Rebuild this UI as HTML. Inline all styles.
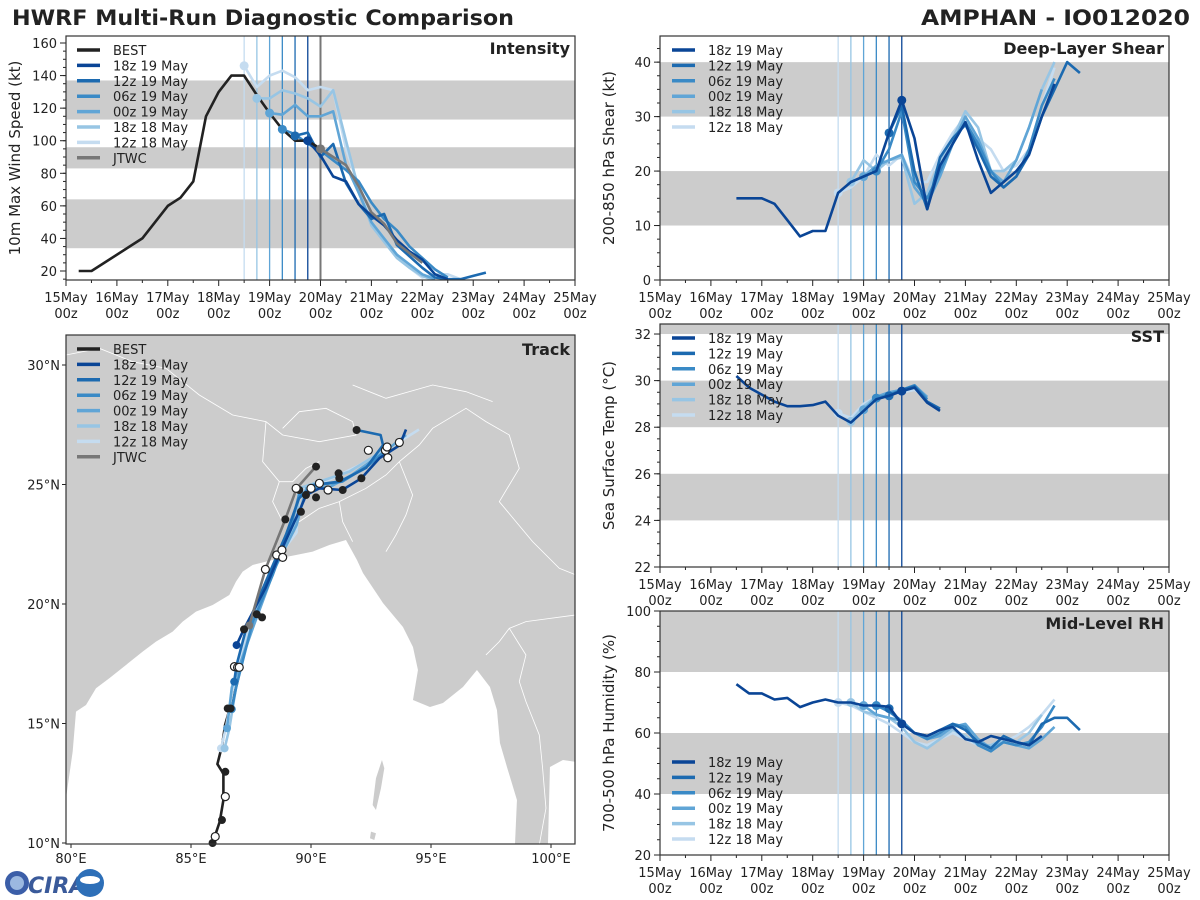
<!DOCTYPE html>
<html><head><meta charset="utf-8"><style>
html,body{margin:0;padding:0;background:#fff;}
svg{display:block;font-family:"DejaVu Sans","Liberation Sans",sans-serif;}
</style></head><body>
<svg id="chart" width="1200" height="900" viewBox="0 0 1200 900" xmlns="http://www.w3.org/2000/svg">
<text x="12" y="25" font-size="21" font-weight="bold" fill="#222" textLength="502" lengthAdjust="spacingAndGlyphs">HWRF Multi-Run Diagnostic Comparison</text>
<text x="921" y="25" font-size="21" font-weight="bold" fill="#222" textLength="269" lengthAdjust="spacingAndGlyphs">AMPHAN - IO012020</text>
<g>
<circle cx="17" cy="883" r="12" fill="#3b5ea8"/>
<circle cx="17" cy="883" r="7" fill="#9bb8e0"/>
<text x="28" y="893" font-size="22" font-weight="bold" fill="#3a5a9a" font-style="italic">CIRA</text>
<circle cx="90" cy="883" r="14" fill="#2d6fb8"/>
<ellipse cx="90" cy="880" rx="10" ry="4" fill="#fff"/>
</g>
</svg>
<script>
// ---------------- data ----------------
const runNames = ['18z 19 May','12z 19 May','06z 19 May','00z 19 May','18z 18 May','12z 18 May'];
const runStarts = [4.75, 4.5, 4.25, 4.0, 3.75, 3.5];
const runColors = ['#0a4596','#1c6ab0','#3a8ac6','#60a5d6','#97c5e4','#c5dcf0'];
const xTickLabels = ['15May','16May','17May','18May','19May','20May','21May','22May','23May','24May','25May'];

// Intensity (kt)
const bestTimes = [0.25,0.5,1.5,2,2.25,2.5,2.75,3,3.25,3.5,3.75,4,4.25,4.5,4.75,5];
const bestVmax = [20,20,40,60,65,75,115,130,140,140,128,117,107,100,100,95];
const jtwcTimes = [5,5.25,5.5,5.75,6,6.25,6.5,6.75,7];
const jtwcVmax = [95,90,85,72,56,49,37,31,25];
const int18z19 = [100,91,78,75,61,54,48,39,32,27,18,15];
const int12z19 = [103,105,90,98,74,61,52,55,36,29,22,16,15,15,17,19];
const int06z19 = [107,104,98,94,88,82,75,62,52,45,35,28,21,16];
const int00z19 = [117,116,122,115,115,118,85,68,50,40,30,24,18,15];
const int18z18 = [126,126,131,129,126,121,131,100,70,48,38,28,22,17,14];
const int12z18 = [146,133,140,143,139,131,133,131,95,72,50,40,30,22,16,18,18,15];

// Deep-layer shear (kt)
const shr18z19Start = 1.5;
const shr18z19 = [15,15,15,14,11,8,9,9,16,18,19,20,27,33,26,13,21,25,29,22,16,18,20,23,30,36];
const shr12z19 = [27,32,20,13,22.5,26,28.5,24,19,17,19,23,30,35,40,38];
const shr06z19 = [20,24,31,18,15,20,25,29,25,20,17,19,24,32,37];
const shr00z19 = [19,21,22,23,17,14,19,25,30,26,20,18,22,28,35];
const shr18z18 = [18,22,20,22,22.5,14,16,22,26,31,28,20,20,22,28,35,40];
const shr12z18 = [16,17,19,23,21,23,18,18,23,27,30,26,24,20,21,24,32,39];

// SST (C)
const sst18z19Start = 1.5;
const sst18z19 = [30.2,29.7,29.4,29.1,28.9,28.9,28.95,29.1,28.5,28.2,28.7,29.2,29.35,29.55,29.7,29.05,28.7];
const sst12z19 = [29.35,29.6,29.75,29.1,28.8];
const sst06z19 = [29.25,29.4,29.6,29.8,29.2];
const sst00z19 = [28.75,29.3,29.5,29.6,29.8,29.3];
const sst18z18 = [28.25,28.9,29.3,29.5,29.6,29.7,29.3];
const sst12z18 = [28.6,28.4,29.0,29.3,29.4,29.5,29.6,29.3];

// Mid-level RH (%)
const rh18z19Start = 1.5;
const rh18z19 = [76,73,73,71,71.5,68.5,70,71,70,70,69,69,68.6,63,60,59,61,62,58,57,59,58,57,56,59];
const rh12z19 = [68,63,60,59,61,63,61,57,55,59,57,56,63,65,65,61];
const rh06z19 = [69,67,64,60,58,60,63,62,56,54,57,56,57,62,69];
const rh00z19 = [69,66,65,64,60,58,59,62,63,58,55,57,56,55,58,62];
const rh18z18 = [70,67,66,65,62,57,55,58,61,59,56,56,58,57,60,66];
const rh12z18 = [70,69,67,65,63,60,57,56,58,60,58,56,56,57,59,62,66,71];

// Track (lon, lat)
const bestLon = [85.9,86.0,86.2,86.35,86.35,86.1,86.3,86.42,86.9,87.3];
const bestLat = [10.0,10.3,10.9,11.8,12.9,13.3,14.1,14.94,16.6,18.4];
const jtwcLon = [87.43,88.1,88.93,89.4,90.2];
const jtwcLat = [19.1,21.45,23.54,24.84,25.75];
const trk18z19Lon = [86.9,87.2,88.1,88.8,89.5,89.8,90.35,91.3,92.1,92.85,93.7,93.96];
const trk18z19Lat = [18.28,18.94,20.66,22.33,23.86,24.56,24.84,24.77,25.26,26.1,26.65,27.3];
const trk12z19Lon = [86.8,86.9,87.3,88.1,88.96,89.5,90.07,91.2,92.3,93.0,92.9,91.9];
const trk12z19Lat = [16.75,17.45,18.98,20.9,22.9,24.42,24.98,25.12,25.7,26.65,27.07,27.28];
const trk06z19Lon = [86.7,86.9,87.57,88.4,89.2,89.5,90.35,91.3,92.4,93.2];
const trk06z19Lat = [15.6,16.6,19.26,21.2,23.4,24.56,24.98,25.12,25.8,26.5];
const trk00z19Lon = [86.5,86.7,87.57,88.5,89.4,89.8,90.8,91.7,93.1,93.96];
const trk00z19Lat = [14.8,16.5,18.98,21.5,23.3,24.84,24.9,25.4,26.4,27.07];
const trk18z18Lon = [86.4,86.6,87.0,88.0,88.8,89.4,89.5,90.35,91.6,93.05];
const trk18z18Lat = [13.96,14.8,17.3,20.66,22.2,23.4,24.84,25.12,25.54,26.44];
const trk12z18Lon = [86.25,86.45,86.9,87.85,88.7,89.4,89.5,90.6,92.0,93.7,94.5];
const trk12z18Lat = [13.96,14.8,17.3,20.38,22.05,23.0,24.7,25.12,25.8,26.8,27.3];
const openMarkLon = [86.01,86.43,86.81,86.94,87.01,88.1,88.57,88.79,88.82,89.38,90.0,90.35,90.71,92.39,93.1,93.17,93.2,93.68];
const openMarkLat = [10.27,11.94,17.38,17.35,17.35,21.45,22.05,22.26,21.95,24.84,24.84,25.05,24.77,26.43,26.43,26.57,26.12,26.76];
const fillMarkLon = [86.29,86.43,86.53,86.65,87.21,87.74,87.96,88.93,89.58,89.79,89.51,90.21,91.15,91.18,91.32,92.1,91.9,90.21];
const fillMarkLat = [10.96,12.98,15.63,15.63,18.94,19.57,19.44,23.54,23.86,24.56,24.77,24.46,25.47,25.26,24.77,25.26,27.28,25.75];

// ---------------- drawing ----------------
const NS = 'http://www.w3.org/2000/svg';
const svg = document.getElementById('chart');
function mk(tag, attrs, parent) {
  const e = document.createElementNS(NS, tag);
  for (const k in attrs) e.setAttribute(k, attrs[k]);
  (parent || svg).appendChild(e);
  return e;
}
const P = {
  int: {x0:66, y0:36, w:509, h:244, ymin:14.48, ymax:164.3},
  shr: {x0:660, y0:36, w:509, h:244, ymin:0, ymax:44.8},
  sst: {x0:660, y0:324, w:509, h:243, ymin:22, ymax:32.43},
  rh:  {x0:660, y0:611, w:509, h:244, ymin:20, ymax:100}
};
function xOf(p, t) { return p.x0 + t / 10 * p.w; }
function yOf(p, v) { return p.y0 + p.h - (v - p.ymin) / (p.ymax - p.ymin) * p.h; }

function timePanel(key, name, title, ytitle, bands, yTicks, yMinorStep, yDecimals) {
  const p = P[key];
  const g = mk('g', {});
  
  
  const cp = mk('clipPath', {id: 'clip-' + key}, g);
  mk('rect', {x:p.x0, y:p.y0, width:p.w, height:p.h}, cp);
  bands.forEach(b => {
    const y1 = yOf(p, Math.min(b[1], p.ymax)), y0 = yOf(p, b[0]);
    const r = mk('rect', {x:p.x0, y:y1, width:p.w, height:y0 - y1, fill:'#cccccc'}, g);
    
    
  });
  for (let i = 0; i <= 20; i++) {
    const x = xOf(p, i / 2), major = i % 2 === 0;
    mk('line', {x1:x, x2:x, y1:p.y0 + p.h, y2:p.y0 + p.h + (major ? 6 : 3), stroke:'#222', 'stroke-width':1}, g);
    if (major) {
      const t1 = mk('text', {x:x, y:p.y0 + p.h + 22, 'font-size':13, fill:'#222', 'text-anchor':'middle'}, g);
      t1.textContent = xTickLabels[i / 2];
      
      
      const t2 = mk('text', {x:x, y:p.y0 + p.h + 38, 'font-size':13, fill:'#222', 'text-anchor':'middle'}, g);
      t2.textContent = '00z';
      
      
    }
  }
  for (let v = Math.ceil(p.ymin / yMinorStep) * yMinorStep; v <= p.ymax + 1e-6; v += yMinorStep) {
    const y = yOf(p, v);
    mk('line', {x1:p.x0 - 3, x2:p.x0, y1:y, y2:y, stroke:'#222', 'stroke-width':1}, g);
  }
  yTicks.forEach(v => {
    const y = yOf(p, v);
    mk('line', {x1:p.x0 - 6, x2:p.x0, y1:y, y2:y, stroke:'#222', 'stroke-width':1}, g);
    const t = mk('text', {x:p.x0 - 9, y:y + 5, 'font-size':13, fill:'#222', 'text-anchor':'end'}, g);
    t.textContent = v.toFixed(yDecimals);
    
    
  });
  const yt = mk('text', {x:0, y:0, 'font-size':15, fill:'#222', 'text-anchor':'middle', transform:'translate(' + (p.x0 - 46) + ',' + (p.y0 + p.h / 2) + ') rotate(-90)'}, g);
  yt.textContent = ytitle;
  
  
  const pt = mk('text', {x:p.x0 + p.w - 5, y:p.y0 + 18, 'font-size':16, 'font-weight':'bold', fill:'#222', 'text-anchor':'end'}, g);
  pt.textContent = title;
  
  
  return g;
}

function runVLines(key, g, withJtwc) {
  const p = P[key];
  for (let i = runStarts.length - 1; i >= 0; i--) {
    const x = xOf(p, runStarts[i]);
    const l = mk('line', {x1:x, x2:x, y1:p.y0, y2:p.y0 + p.h, stroke:runColors[i], 'stroke-width':1.3}, g);
    
    
  }
  if (withJtwc) {
    const x = xOf(p, 5);
    const l = mk('line', {x1:x, x2:x, y1:p.y0, y2:p.y0 + p.h, stroke:'#777', 'stroke-width':2}, g);
    
    
  }
}

function series(key, g, start, vals, color, name, dot, times) {
  const p = P[key];
  const pts = vals.map((v, i) => xOf(p, times ? times[i] : start + i * 0.25).toFixed(1) + ',' + yOf(p, v).toFixed(1)).join(' ');
  const pl = mk('polyline', {points:pts, fill:'none', stroke:color, 'stroke-width':2.6, 'stroke-linejoin':'round', 'clip-path':'url(#clip-' + key + ')'}, g);
  
  
  if (dot) {
    const c = mk('circle', {cx:xOf(p, dot[0]), cy:yOf(p, dot[1]), r:4.5, fill:color}, g);
    
    
  }
}

function legend(g, x, y0, dy, labels, colors) {
  labels.forEach((lab, i) => {
    const y = y0 + i * dy;
    const l = mk('line', {x1:x, x2:x + 23, y1:y, y2:y, stroke:colors[i], 'stroke-width':3.5}, g);
    
    
    const t = mk('text', {x:x + 36, y:y + 5, 'font-size':13, fill:'#222'}, g);
    t.textContent = lab;
    
    
  });
}

function frame(p, g) {
  const r = mk('rect', {x:p.x0, y:p.y0, width:p.w, height:p.h, fill:'none', stroke:'#333', 'stroke-width':1.2}, g);
  
  
}

// ---- Intensity
{
  const g = timePanel('int', 'intensity', 'Intensity', '10m Max Wind Speed (kt)', [[34,64],[83,96],[113,137]], [20,40,60,80,100,120,140,160], 5, 0);
  runVLines('int', g, true);
  const runs = [int18z19, int12z19, int06z19, int00z19, int18z18, int12z18];
  for (let i = 5; i >= 0; i--) series('int', g, runStarts[i], runs[i], runColors[i], 'intensity-run-' + i, null);
  series('int', g, 0, bestVmax, '#222', 'best-track-intensity', null, bestTimes);
  series('int', g, 0, jtwcVmax, '#777', 'jtwc-intensity', [5, jtwcVmax[0]], jtwcTimes);
  for (let i = 5; i >= 0; i--) {
    const c = mk('circle', {cx:xOf(P.int, runStarts[i]), cy:yOf(P.int, runs[i][0]), r:4.5, fill:runColors[i]}, g);
    
    
  }
  legend(g, 77, 50, 15.4, ['BEST'].concat(runNames, ['JTWC']), ['#222'].concat(runColors, ['#777']));
  frame(P.int, g);
}
// ---- Shear
{
  const g = timePanel('shr', 'shear', 'Deep-Layer Shear', '200-850 hPa Shear (kt)', [[10,20],[30,40]], [0,10,20,30,40], 2.5, 0);
  runVLines('shr', g, false);
  const runs = [shr18z19, shr12z19, shr06z19, shr00z19, shr18z18, shr12z18];
  for (let i = 5; i >= 1; i--) series('shr', g, runStarts[i], runs[i], runColors[i], 'shear-run-' + i, [runStarts[i], runs[i][0]]);
  series('shr', g, shr18z19Start, shr18z19, runColors[0], 'shear-run-0', [4.75, shr18z19[13]]);
  legend(g, 672, 50, 15.4, runNames, runColors);
  frame(P.shr, g);
}
// ---- SST
{
  const g = timePanel('sst', 'sst', 'SST', 'Sea Surface Temp (°C)', [[24,26],[28,30],[32,34]], [22,24,26,28,30,32], 0.5, 0);
  runVLines('sst', g, false);
  const runs = [sst18z19, sst12z19, sst06z19, sst00z19, sst18z18, sst12z18];
  for (let i = 5; i >= 1; i--) series('sst', g, runStarts[i], runs[i], runColors[i], 'sst-run-' + i, [runStarts[i], runs[i][0]]);
  series('sst', g, sst18z19Start, sst18z19, runColors[0], 'sst-run-0', [4.75, sst18z19[13]]);
  legend(g, 672, 338, 15.4, runNames, runColors);
  frame(P.sst, g);
}
// ---- RH
{
  const g = timePanel('rh', 'rh', 'Mid-Level RH', '700-500 hPa Humidity (%)', [[40,60],[80,100]], [20,40,60,80,100], 5, 0);
  runVLines('rh', g, false);
  const runs = [rh18z19, rh12z19, rh06z19, rh00z19, rh18z18, rh12z18];
  for (let i = 5; i >= 1; i--) series('rh', g, runStarts[i], runs[i], runColors[i], 'rh-run-' + i, [runStarts[i], runs[i][0]]);
  series('rh', g, rh18z19Start, rh18z19, runColors[0], 'rh-run-0', [4.75, rh18z19[13]]);
  legend(g, 672, 762, 15.4, runNames, runColors);
  frame(P.rh, g);
}
// ---- Track
{
  const T = {x0:66, y0:335, w:509, h:509};
  const lx = lon => 71 + (lon - 80) * 24;
  const ly = lat => 365 + (30 - lat) * 23.9;
  const g = mk('g', {});
  
  
  const cp = mk('clipPath', {id:'clip-trk'}, g);
  mk('rect', {x:T.x0, y:T.y0, width:T.w, height:T.h}, cp);
  const land = mk('rect', {x:T.x0, y:T.y0, width:T.w, height:T.h, fill:'#cccccc'}, g);
  
  
  const outer = mk('g', {'clip-path':'url(#clip-trk)'}, g);
  const mg = mk('g', {transform:'translate(66,335) scale(0.3333)'}, outer);
  const ocean = mk('path', {d:'M0,1390 L20,1250 L30,1130 L60,1110 L90,1060 L130,1030 L180,990 L230,950 L270,920 L320,890 L350,860 L390,830 L440,810 L490,780 L510,740 L530,710 L560,690 L600,680 L640,670 L690,660 L740,650 L790,630 L840,615 L873,675 L891,714 L951,804 L1011,876 L1041,936 L1056,1005 L1041,1095 L1092,1116 L1131,1104 L1191,1056 L1233,1005 L1272,1056 L1293,1125 L1302,1224 L1323,1296 L1353,1395 L1347,1530 L1446,1530 L1452,1296 L1491,1275 L1530,1281 L1530,1530 L0,1530 Z', fill:'#fff'}, mg);
  
  
  const isl = mk('path', {d:'M948,1275 L955,1300 L945,1360 L930,1425 L920,1410 L930,1330 Z M915,1490 L930,1495 L925,1515 L912,1510 Z', fill:'#cccccc'}, mg);
  
  
  const borders = mk('path', {d:'M0,60 L100,40 L200,80 L300,100 L400,180 L500,240 L600,260 L650,300 L760,320 L870,300 L860,260 L780,220 L700,230 L650,280 M600,260 L590,380 L640,440 L680,440 L720,400 L760,380 M640,440 L620,500 L650,560 L700,560 L760,520 L820,500 L830,560 L860,620 M820,500 L900,460 L960,420 L1000,380 L1060,330 L1100,280 L1200,220 L1260,260 L1330,300 L1360,400 L1300,500 L1400,620 L1480,700 L1530,720 M1000,380 L1040,480 L1020,540 L990,600 L960,650 M1260,960 L1300,920 L1330,880 L1380,860 L1530,840 M1330,880 L1380,960 L1360,1040 L1380,1100 L1420,1200 L1430,1300 L1440,1420 L1420,1530 M860,150 L960,190 L1100,150 L1200,170 L1280,200', fill:'none', stroke:'#fff', 'stroke-width':2.5}, mg);
  
  
  function trk(lons, lats, color, name, w) {
    const pts = lons.map((lo, i) => lx(lo).toFixed(1) + ',' + ly(lats[i]).toFixed(1)).join(' ');
    const pl = mk('polyline', {points:pts, fill:'none', stroke:color, 'stroke-width':w, 'stroke-linejoin':'round', 'clip-path':'url(#clip-trk)'}, g);
    
    
    const c = mk('circle', {cx:lx(lons[0]), cy:ly(lats[0]), r:4, fill:color}, g);
    
    
  }
  trk(bestLon, bestLat, '#222', 'best-track', 2.6);
  trk(trk12z18Lon, trk12z18Lat, runColors[5], 'track-12z18', 2.6);
  trk(trk18z18Lon, trk18z18Lat, runColors[4], 'track-18z18', 2.6);
  trk(trk00z19Lon, trk00z19Lat, runColors[3], 'track-00z19', 2.6);
  trk(trk06z19Lon, trk06z19Lat, runColors[2], 'track-06z19', 2.6);
  trk(trk12z19Lon, trk12z19Lat, runColors[1], 'track-12z19', 2.6);
  trk(trk18z19Lon, trk18z19Lat, runColors[0], 'track-18z19', 2.6);
  trk(jtwcLon, jtwcLat, '#777', 'jtwc-track', 2.6);
  fillMarkLon.forEach((lo, i) => {
    const c = mk('circle', {cx:lx(lo), cy:ly(fillMarkLat[i]), r:4, fill:'#222'}, g);
    
    
  });
  openMarkLon.forEach((lo, i) => {
    const c = mk('circle', {cx:lx(lo), cy:ly(openMarkLat[i]), r:4, fill:'#fff', stroke:'#222', 'stroke-width':1.2}, g);
    
    
  });
  legend(g, 77, 349, 15.4, ['BEST'].concat(runNames, ['JTWC']), ['#222'].concat(runColors, ['#777']));
  const pt = mk('text', {x:570, y:355, 'font-size':16, 'font-weight':'bold', fill:'#222', 'text-anchor':'end'}, g);
  pt.textContent = 'Track';
  
  
  [30,25,20,15,10].forEach(lat => {
    const y = ly(lat);
    mk('line', {x1:T.x0 - 4, x2:T.x0, y1:y, y2:y, stroke:'#222'}, g);
    const t = mk('text', {x:T.x0 - 6, y:y + 5, 'font-size':13, fill:'#222', 'text-anchor':'end'}, g);
    t.textContent = lat + '°N';
    
    
  });
  [80,85,90,95,100].forEach(lon => {
    const x = lx(lon);
    mk('line', {x1:x, x2:x, y1:T.y0 + T.h, y2:T.y0 + T.h + 4, stroke:'#222'}, g);
    const t = mk('text', {x:x, y:T.y0 + T.h + 19, 'font-size':13, fill:'#222', 'text-anchor':'middle'}, g);
    t.textContent = lon + '°E';
    
    
  });
  const fr = mk('rect', {x:T.x0, y:T.y0, width:T.w, height:T.h, fill:'none', stroke:'#333', 'stroke-width':1.2}, g);
  
  
}
</script>
</body></html>
